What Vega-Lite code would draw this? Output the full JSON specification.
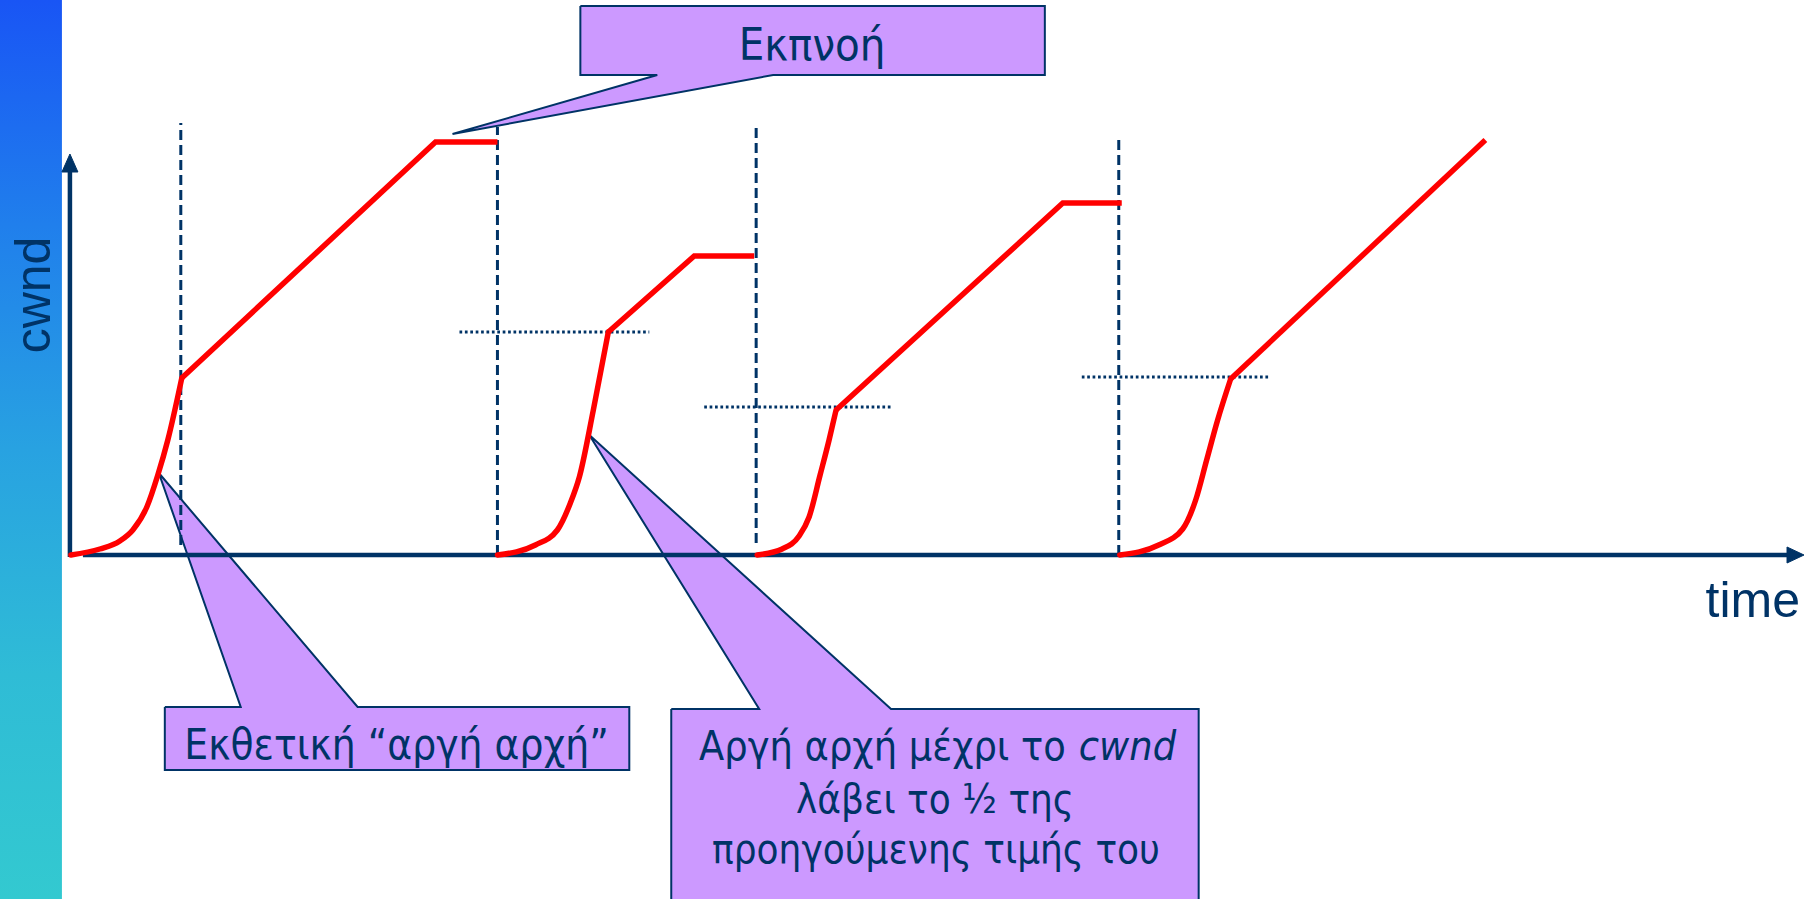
{
  "$schema": "https://vega.github.io/schema/vega-lite/v6.json",
  "width": 1806,
  "height": 899,
  "autosize": {"type": "fit", "contains": "padding"},
  "padding": 0,
  "background": "white",
  "config": {"view": {"stroke": null}},
  "datasets": {
    "bar": [{"t": 0, "t2": 62, "w": 0, "w2": 899}],
    "callouts": [
      {"id": "c1", "ord": 1, "t": 581, "w": 893},
      {"id": "c1", "ord": 2, "t": 1046, "w": 893},
      {"id": "c1", "ord": 3, "t": 1046, "w": 824},
      {"id": "c1", "ord": 4, "t": 774, "w": 824},
      {"id": "c1", "ord": 5, "t": 453, "w": 765},
      {"id": "c1", "ord": 6, "t": 658, "w": 824},
      {"id": "c1", "ord": 7, "t": 581, "w": 824},
      {"id": "c1", "ord": 8, "t": 581, "w": 893},
      {"id": "c2", "ord": 1, "t": 165, "w": 192},
      {"id": "c2", "ord": 2, "t": 241, "w": 192},
      {"id": "c2", "ord": 3, "t": 159, "w": 426},
      {"id": "c2", "ord": 4, "t": 358, "w": 192},
      {"id": "c2", "ord": 5, "t": 630, "w": 192},
      {"id": "c2", "ord": 6, "t": 630, "w": 129},
      {"id": "c2", "ord": 7, "t": 165, "w": 129},
      {"id": "c2", "ord": 8, "t": 165, "w": 192},
      {"id": "c3", "ord": 1, "t": 672, "w": 190},
      {"id": "c3", "ord": 2, "t": 760, "w": 190},
      {"id": "c3", "ord": 3, "t": 590, "w": 464},
      {"id": "c3", "ord": 4, "t": 892, "w": 190},
      {"id": "c3", "ord": 5, "t": 1200, "w": 190},
      {"id": "c3", "ord": 6, "t": 1200, "w": -6},
      {"id": "c3", "ord": 7, "t": 672, "w": -6},
      {"id": "c3", "ord": 8, "t": 672, "w": 190}
    ],
    "dashed": [
      {"t": 181, "w1": 354, "w2": 776},
      {"t": 498, "w1": 344, "w2": 772},
      {"t": 757, "w1": 356, "w2": 776},
      {"t": 1120, "w1": 344, "w2": 759}
    ],
    "dotted": [
      {"t1": 460, "t2": 650, "w": 567},
      {"t1": 705, "t2": 894, "w": 492},
      {"t1": 1083, "t2": 1272, "w": 522}
    ],
    "axes": [
      {"id": "y", "ord": 1, "t": 70, "w": 342},
      {"id": "y", "ord": 2, "t": 70, "w": 734},
      {"id": "x", "ord": 1, "t": 83, "w": 344},
      {"id": "x", "ord": 2, "t": 1792, "w": 344}
    ],
    "arrows": [
      {"id": "up", "ord": 1, "t": 62, "w": 727},
      {"id": "up", "ord": 2, "t": 70, "w": 745},
      {"id": "up", "ord": 3, "t": 78, "w": 727},
      {"id": "up", "ord": 4, "t": 62, "w": 727},
      {"id": "right", "ord": 1, "t": 1789, "w": 352},
      {"id": "right", "ord": 2, "t": 1806, "w": 344},
      {"id": "right", "ord": 3, "t": 1789, "w": 336},
      {"id": "right", "ord": 4, "t": 1789, "w": 352}
    ],
    "slowstart": [
      {"seg": 1, "ord": 1, "t": 71, "w": 344},
      {"seg": 1, "ord": 2, "t": 100, "w": 350},
      {"seg": 1, "ord": 3, "t": 120, "w": 358},
      {"seg": 1, "ord": 4, "t": 133, "w": 369},
      {"seg": 1, "ord": 5, "t": 147, "w": 392},
      {"seg": 1, "ord": 6, "t": 158, "w": 424},
      {"seg": 1, "ord": 7, "t": 168, "w": 459},
      {"seg": 1, "ord": 8, "t": 182, "w": 521},
      {"seg": 2, "ord": 1, "t": 498, "w": 344},
      {"seg": 2, "ord": 2, "t": 536, "w": 354},
      {"seg": 2, "ord": 3, "t": 558, "w": 369},
      {"seg": 2, "ord": 4, "t": 571, "w": 396},
      {"seg": 2, "ord": 5, "t": 580, "w": 422},
      {"seg": 2, "ord": 6, "t": 594, "w": 489},
      {"seg": 2, "ord": 7, "t": 609, "w": 567},
      {"seg": 3, "ord": 1, "t": 758, "w": 344},
      {"seg": 3, "ord": 2, "t": 783, "w": 350},
      {"seg": 3, "ord": 3, "t": 800, "w": 363},
      {"seg": 3, "ord": 4, "t": 810, "w": 382},
      {"seg": 3, "ord": 5, "t": 821, "w": 424},
      {"seg": 3, "ord": 6, "t": 830, "w": 459},
      {"seg": 3, "ord": 7, "t": 837, "w": 489},
      {"seg": 4, "ord": 1, "t": 1121, "w": 344},
      {"seg": 4, "ord": 2, "t": 1160, "w": 354},
      {"seg": 4, "ord": 3, "t": 1184, "w": 370},
      {"seg": 4, "ord": 4, "t": 1197, "w": 399},
      {"seg": 4, "ord": 5, "t": 1208, "w": 439},
      {"seg": 4, "ord": 6, "t": 1219, "w": 479},
      {"seg": 4, "ord": 7, "t": 1232, "w": 520}
    ],
    "linear": [
      {"seg": 1, "ord": 1, "t": 182, "w": 521},
      {"seg": 1, "ord": 2, "t": 436, "w": 757},
      {"seg": 1, "ord": 3, "t": 498, "w": 757},
      {"seg": 2, "ord": 1, "t": 609, "w": 567},
      {"seg": 2, "ord": 2, "t": 695, "w": 643},
      {"seg": 2, "ord": 3, "t": 755, "w": 643},
      {"seg": 3, "ord": 1, "t": 837, "w": 489},
      {"seg": 3, "ord": 2, "t": 1064, "w": 696},
      {"seg": 3, "ord": 3, "t": 1123, "w": 696},
      {"seg": 4, "ord": 1, "t": 1232, "w": 520},
      {"seg": 4, "ord": 2, "t": 1487, "w": 759}
    ],
    "notes": [
      {"id": "exp", "label": "Εκπνοή", "t": 813, "w": 839},
      {"id": "ss", "label": "Εκθετική “αργή αρχή”", "t": 397, "w": 140},
      {"id": "l2", "label": "λάβει το ½ της", "t": 936, "w": 86},
      {"id": "l3", "label": "προηγούμενης τιμής του", "t": 937, "w": 36}
    ],
    "line1a": [{"label": "Αργή αρχή μέχρι το", "t": 1067, "w": 139}],
    "line1b": [{"label": "cwnd", "t": 1080, "w": 139}],
    "ylab": [{"label": "cwnd", "t": 50, "w": 604}],
    "xlab": [{"label": "time", "t": 1802, "w": 282}]
  },
  "encoding": {
    "x": {"field": "t", "type": "quantitative", "scale": {"domain": [0, 1806], "nice": false, "zero": false}, "axis": null},
    "y": {"field": "w", "type": "quantitative", "scale": {"domain": [0, 899], "nice": false, "zero": false}, "axis": null}
  },
  "layer": [
    {
      "data": {"name": "bar"},
      "mark": {"type": "rect", "fill": {"gradient": "linear", "x1": 0, "y1": 0, "x2": 0, "y2": 1, "stops": [
        {"offset": 0, "color": "#1955f5"},
        {"offset": 0.25, "color": "#207fec"},
        {"offset": 0.5, "color": "#28a2e1"},
        {"offset": 0.75, "color": "#2fbcd6"},
        {"offset": 1, "color": "#33c9d0"}
      ]}},
      "encoding": {"x2": {"field": "t2"}, "y2": {"field": "w2"}}
    },
    {
      "data": {"name": "callouts"},
      "mark": {"type": "line", "fill": "#cc99ff", "stroke": "#003366", "strokeWidth": 2, "strokeJoin": "miter", "clip": true},
      "encoding": {"detail": {"field": "id"}, "order": {"field": "ord", "type": "quantitative"}}
    },
    {
      "data": {"name": "dashed"},
      "mark": {"type": "rule", "color": "#003366", "strokeWidth": 3, "strokeDash": [10, 5]},
      "encoding": {"y": {"field": "w1", "type": "quantitative"}, "y2": {"field": "w2"}}
    },
    {
      "data": {"name": "dotted"},
      "mark": {"type": "rule", "color": "#003366", "strokeWidth": 3, "strokeDash": [2.7, 2.7]},
      "encoding": {"x": {"field": "t1", "type": "quantitative"}, "x2": {"field": "t2"}}
    },
    {
      "data": {"name": "axes"},
      "mark": {"type": "line", "color": "#003366", "strokeWidth": 4.5, "strokeCap": "butt"},
      "encoding": {"detail": {"field": "id"}, "order": {"field": "ord", "type": "quantitative"}}
    },
    {
      "data": {"name": "arrows"},
      "mark": {"type": "line", "fill": "#003366", "stroke": "#003366", "strokeWidth": 1},
      "encoding": {"detail": {"field": "id"}, "order": {"field": "ord", "type": "quantitative"}}
    },
    {
      "data": {"name": "slowstart"},
      "mark": {"type": "line", "color": "#ff0000", "strokeWidth": 5.5, "interpolate": "monotone", "strokeCap": "round"},
      "encoding": {"detail": {"field": "seg"}, "order": {"field": "ord", "type": "quantitative"}}
    },
    {
      "data": {"name": "linear"},
      "mark": {"type": "line", "color": "#ff0000", "strokeWidth": 5.5, "strokeJoin": "miter", "strokeCap": "butt"},
      "encoding": {"detail": {"field": "seg"}, "order": {"field": "ord", "type": "quantitative"}}
    },
    {
      "data": {"name": "notes"},
      "transform": [{"filter": "datum.id === 'exp'"}],
      "mark": {"type": "text", "font": "DejaVu Sans Condensed", "fontSize": 45, "color": "#003366", "align": "center", "baseline": "alphabetic"},
      "encoding": {"text": {"field": "label"}}
    },
    {
      "data": {"name": "notes"},
      "transform": [{"filter": "datum.id === 'ss'"}],
      "mark": {"type": "text", "font": "DejaVu Sans Condensed", "fontSize": 42, "color": "#003366", "align": "center", "baseline": "alphabetic"},
      "encoding": {"text": {"field": "label"}}
    },
    {
      "data": {"name": "notes"},
      "transform": [{"filter": "datum.id === 'l2' || datum.id === 'l3'"}],
      "mark": {"type": "text", "font": "DejaVu Sans Condensed", "fontSize": 40, "color": "#003366", "align": "center", "baseline": "alphabetic"},
      "encoding": {"text": {"field": "label"}}
    },
    {
      "data": {"name": "line1a"},
      "mark": {"type": "text", "font": "DejaVu Sans Condensed", "fontSize": 41, "color": "#003366", "align": "right", "baseline": "alphabetic"},
      "encoding": {"text": {"field": "label"}}
    },
    {
      "data": {"name": "line1b"},
      "mark": {"type": "text", "font": "DejaVu Sans Condensed", "fontStyle": "italic", "fontSize": 41, "color": "#003366", "align": "left", "baseline": "alphabetic"},
      "encoding": {"text": {"field": "label"}}
    },
    {
      "data": {"name": "ylab"},
      "mark": {"type": "text", "font": "Liberation Sans", "fontSize": 50, "color": "#003366", "align": "center", "baseline": "alphabetic", "angle": 270},
      "encoding": {"text": {"field": "label"}}
    },
    {
      "data": {"name": "xlab"},
      "mark": {"type": "text", "font": "Liberation Sans", "fontSize": 50, "color": "#003366", "align": "right", "baseline": "alphabetic"},
      "encoding": {"text": {"field": "label"}}
    }
  ]
}
